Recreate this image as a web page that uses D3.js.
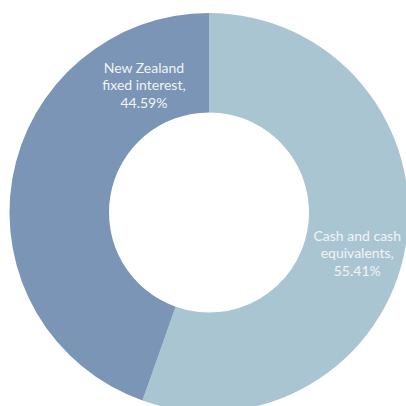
<!DOCTYPE html>
<html><head><meta charset="utf-8">
<script src="https://cdn.jsdelivr.net/npm/d3@7"></script>
<style>html,body{margin:0;padding:0;background:#fff;}svg{display:block;}</style>
</head><body>
<svg id="c" width="406" height="406"></svg>
<script>
const categories = ["Cash and cash equivalents", "New Zealand fixed interest"];
const values = [55.41, 44.59];
const labelLines = [["Cash and cash", "equivalents,", "55.41%"], ["New Zealand", "fixed interest,", "44.59%"]];
const colors = ["#aac5d2", "#7a95b5"];

const svg = d3.select("#c");
const cx = 209, cy = 212.5, R = 199.5, r0 = 100;
const g = svg.append("g").attr("transform", `translate(${cx},${cy})`);
const pie = d3.pie().sort(null).value(d => d)(values);
const arc = d3.arc().innerRadius(r0).outerRadius(R);
g.selectAll("path").data(pie).enter().append("path")
  .attr("d", arc).attr("fill", (d, i) => colors[i]);

// label placement: fraction along each slice and radius
const labelFrac = [0.53, 0.83], labelRad = [154, 142];
pie.forEach((d, i) => {
  const a = d.startAngle + (d.endAngle - d.startAngle) * labelFrac[i];
  const x = Math.sin(a) * labelRad[i], y = -Math.cos(a) * labelRad[i];
  const t = g.append("text").attr("text-anchor", "middle")
    .attr("font-family", "Lato, sans-serif").attr("font-size", 14)
    .attr("fill", "#f1f4f6");
  const lines = labelLines[i];
  lines.forEach((ln, j) => {
    t.append("tspan").attr("x", x).attr("y", y + (j - (lines.length - 1) / 2) * 17.5 + 4).text(ln);
  });
});
</script>
</body></html>
